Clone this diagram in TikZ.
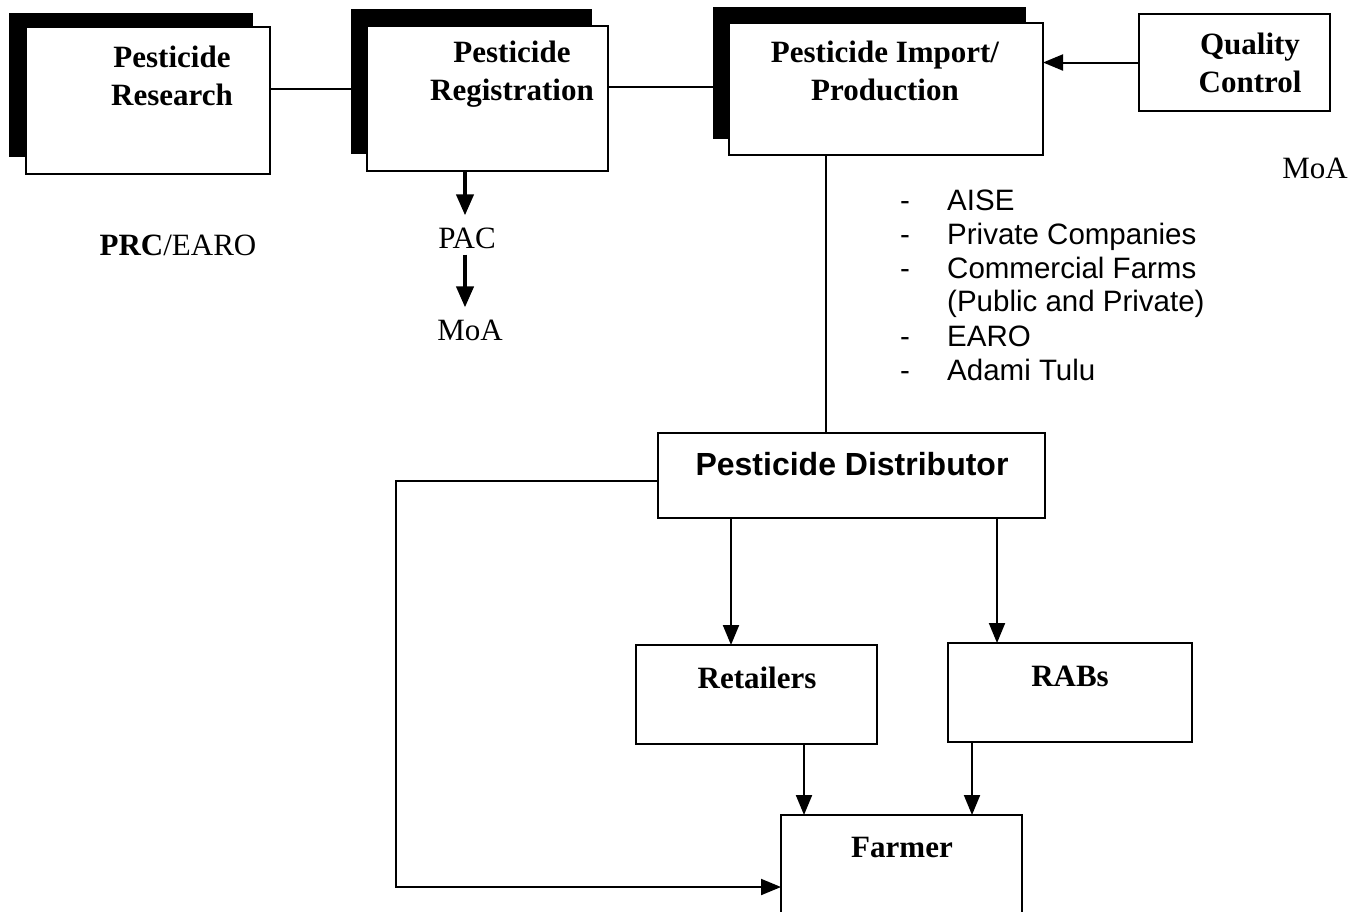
\documentclass[tikz,border=0pt]{standalone}
\usepackage{fontspec}
\setmainfont{Liberation Serif}
\setsansfont{Liberation Sans}
\usetikzlibrary{arrows.meta,calc}
\begin{document}
\begin{tikzpicture}[x=1pt,y=-1pt]
\tikzset{
  frontbox/.style={draw, line width=2.4pt, fill=white, anchor=north west, inner sep=0pt, outer sep=0pt},
  shadowbox/.style={fill=black, anchor=north west, inner sep=0pt, outer sep=0pt},
  boxtext/.style={font=\fontsize{31}{38}\selectfont\bfseries, align=center, inner sep=0pt},
  plaintext/.style={font=\fontsize{31}{38}\selectfont, inner sep=0pt},
  sansbold/.style={font=\sffamily\bfseries\fontsize{32}{38}\selectfont, inner sep=0pt},
  listtext/.style={font=\sffamily\fontsize{29.5}{34}\selectfont, anchor=base west, inner sep=0pt},
  conn/.style={line width=2pt},
  arr/.style={conn, -{Triangle[length=20pt,width=16pt]}},
  thickarr/.style={line width=4pt, -{Triangle[length=21pt,width=17pt]}},
}
\path[use as bounding box] (0,0) rectangle (1367,911);
\clip (0,0) rectangle (1367,911);

% top boxes with shadows
\node[shadowbox, minimum width=244pt, minimum height=144pt] (ressh) at (9,13) {};
\node[frontbox, minimum width=244pt, minimum height=147pt] (res) at (26,27) {};
\node[shadowbox, minimum width=241pt, minimum height=145pt] (regsh) at (351,9) {};
\node[frontbox, minimum width=241pt, minimum height=145pt] (reg) at (367,26) {};
\node[shadowbox, minimum width=313pt, minimum height=132pt] (impsh) at (713,7) {};
\node[frontbox, minimum width=314pt, minimum height=132pt] (imp) at (729,23) {};
\node[frontbox, minimum width=191pt, minimum height=97pt] (qc) at (1139,14) {};

\node[boxtext] (restxt) at (172,76) {Pesticide\\Research};
\node[boxtext] (regtxt) at (512,74) {Pesticide\\Registration};
\node[boxtext] (imptxt) at (885,71) {Pesticide Import/\\Production};
\node[boxtext] (qctxt) at (1250,63) {Quality\\Control};

% lower boxes
\node[frontbox, minimum width=387pt, minimum height=85pt] (dist) at (658,433) {};
\node[frontbox, minimum width=241pt, minimum height=99pt] (ret) at (636,645) {};
\node[frontbox, minimum width=244pt, minimum height=99pt] (rab) at (948,643) {};
\node[frontbox, minimum width=241pt, minimum height=140pt] (farm) at (781,815) {};

\node[sansbold] (disttxt) at (852,464) {Pesticide Distributor};
\node[boxtext] (rettxt) at (757,678) {Retailers};
\node[boxtext] (rabtxt) at (1070,676) {RABs};
\node[boxtext] (farmtxt) at (902,847) {Farmer};

% free labels
\node[plaintext] (prc) at (178,245) {\textbf{PRC}/EARO};
\node[plaintext] (pac) at (467,238) {PAC};
\node[plaintext] (moa1) at (470,330) {MoA};
\node[plaintext] (moa2) at (1315,168) {MoA};

% list
\node[listtext] (l1) at (900,210) {\makebox[47pt][l]{-}AISE};
\node[listtext] (l2) at (900,244) {\makebox[47pt][l]{-}Private Companies};
\node[listtext] (l3) at (900,278) {\makebox[47pt][l]{-}Commercial Farms};
\node[listtext] (l4) at (900,311) {\makebox[47pt][l]{}(Public and Private)};
\node[listtext] (l5) at (900,346) {\makebox[47pt][l]{-}EARO};
\node[listtext] (l6) at (900,380) {\makebox[47pt][l]{-}Adami Tulu};

% connectors
\draw[conn] (res.north east) ++(0,62) coordinate (c1) -- (c1 -| regsh.west);
\draw[conn] (reg.north east) ++(0,61) coordinate (c2) -- (c2 -| impsh.west);
\draw[arr] (qc.west) -- (qc.west -| imp.east);
\draw[conn] (imp.south west) ++(97,0) coordinate (c3) -- (c3 |- dist.north);

\draw[thickarr] (reg.south west) ++(98,0) coordinate (c6) -- ($(c6 |- pac.north)+(0,-12)$);
\draw[thickarr] ($(pac.south)+(-2,6)$) coordinate (c7) -- ($(c7 |- moa1.north)+(0,-12)$);

\coordinate (lx) at (396,0);
\coordinate (fin) at ($(farm.north west)+(0,72)$);
\draw[arr] (dist.north west) ++(0,48) coordinate (c4) -| (lx |- fin) -- (fin);

\draw[arr] (dist.south west) ++(73,0) coordinate (c5) -- (c5 |- ret.north);
\draw[arr] (dist.south west) ++(339,0) coordinate (c8) -- (c8 |- rab.north);
\draw[arr] (ret.south west) ++(168,0) coordinate (c9) -- (c9 |- farm.north);
\draw[arr] (rab.south west) ++(24,0) coordinate (c10) -- (c10 |- farm.north);
\end{tikzpicture}
\end{document}
